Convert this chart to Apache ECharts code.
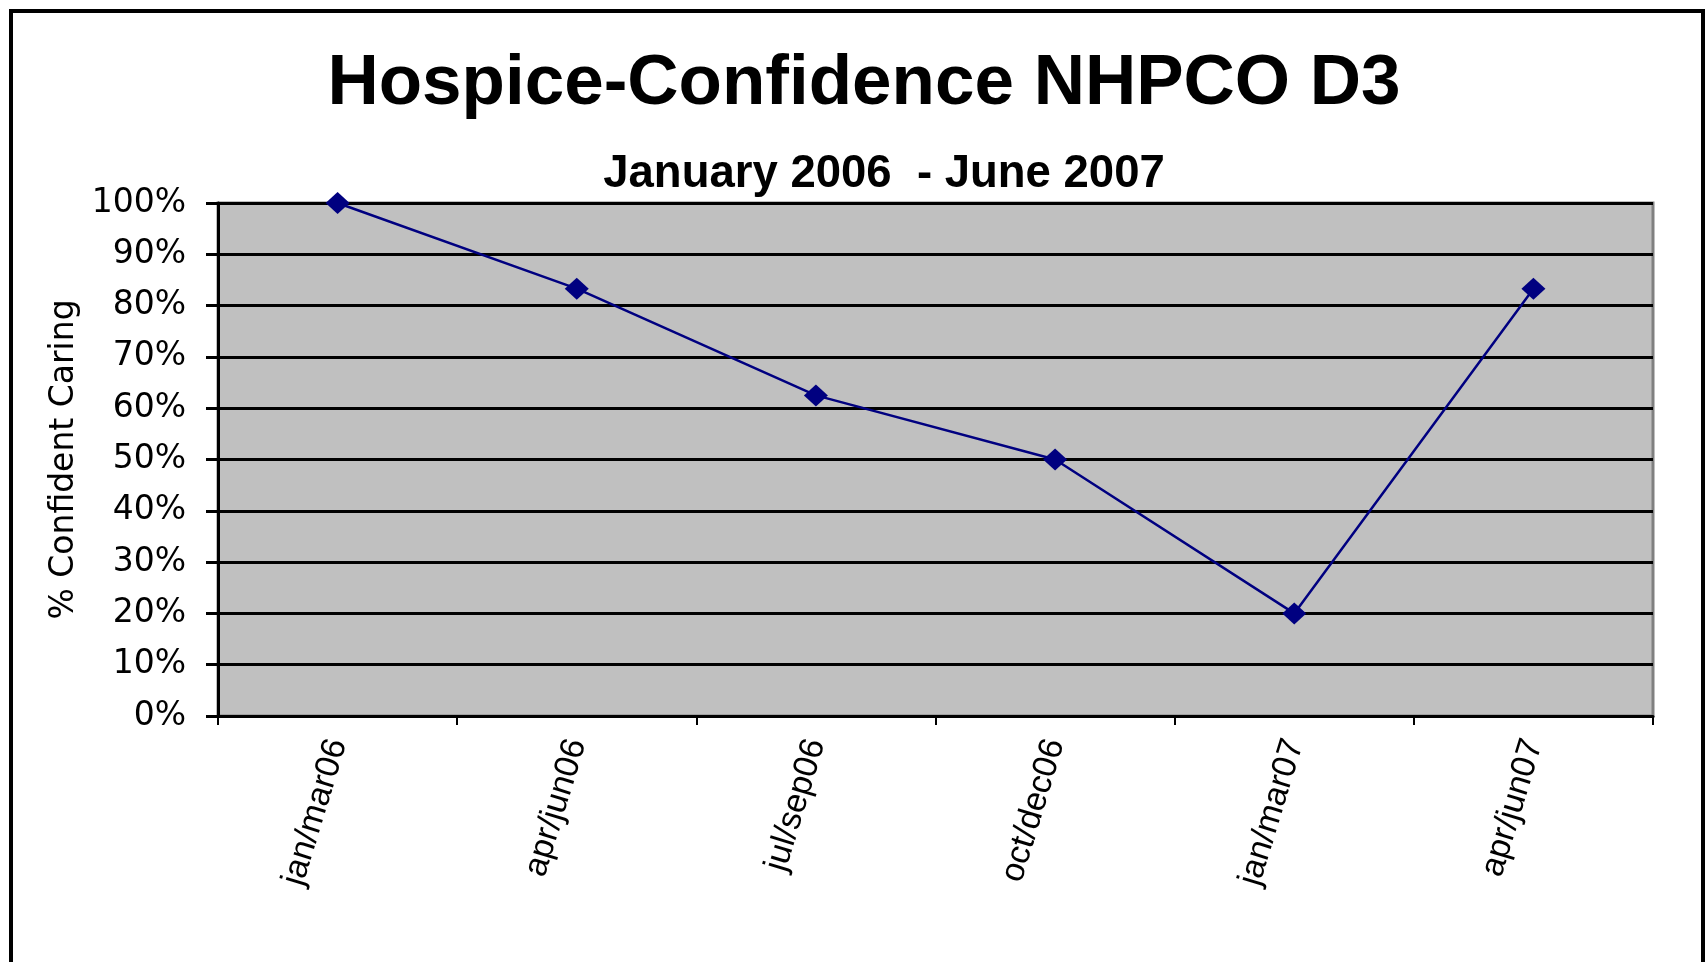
<!DOCTYPE html>
<html>
<head>
<meta charset="utf-8">
<script src="https://cdn.jsdelivr.net/npm/echarts@6/dist/echarts.min.js"></script>
<style>
html,body{margin:0;padding:0;background:#fff;}
#chart{width:1705px;height:962px;}
</style>
</head>
<body>
<div id="chart"></div>
<script>
const categories = ['jan/mar06', 'apr/jun06', 'jul/sep06', 'oct/dec06', 'jan/mar07', 'apr/jun07'];
const confidentCaring = [100, 83.3, 62.5, 50, 20, 83.3];
const yTicks = { min: 0, max: 100, interval: 10 };
const titleText = 'Hospice-Confidence NHPCO D3';
const subtitleText = 'January 2006  - June 2007';
const yAxisName = '% Confident Caring';

const chart = echarts.init(document.getElementById('chart'));
chart.setOption({
  backgroundColor: '#ffffff',
  animation: false,
  title: [
    {
      text: titleText,
      left: 859, top: 44, textAlign: 'center',
      textStyle: { fontFamily: 'Liberation Sans, Arial', fontWeight: 'bold', fontSize: 71, color: '#000' }
    },
    {
      text: subtitleText,
      left: 879, top: 146, textAlign: 'center',
      textStyle: { fontFamily: 'Liberation Sans, Arial', fontWeight: 'bold', fontSize: 45.5, color: '#000' }
    }
  ],
  graphic: [
    {
      type: 'rect', z: 100, silent: true,
      shape: { x: 11, y: 11, width: 1692, height: 980 },
      style: { fill: 'none', stroke: '#000', lineWidth: 4 }
    }
  ],
  grid: {
    left: 218, top: 203, right: 52, bottom: 246,
    show: true, backgroundColor: '#c0c0c0', borderColor: '#808080', borderWidth: 3
  },
  xAxis: {
    type: 'category',
    data: categories,
    boundaryGap: true,
    axisLine: { show: true, lineStyle: { color: '#000', width: 3 } },
    axisTick: { show: true, length: 9, lineStyle: { color: '#000', width: 2 } },
    axisLabel: {
      rotate: 73, margin: 24, interval: 0,
      fontFamily: 'Liberation Sans, Arial', fontSize: 34, color: '#000'
    },
    splitLine: { show: false }
  },
  yAxis: {
    type: 'value',
    min: yTicks.min, max: yTicks.max, interval: yTicks.interval,
    name: yAxisName,
    nameLocation: 'middle',
    nameGap: 136,
    nameRotate: 90,
    nameTextStyle: { fontFamily: 'DejaVu Sans', fontSize: 33, color: '#000' },
    axisLine: { show: true, lineStyle: { color: '#000', width: 3 } },
    axisTick: { show: true, length: 12, lineStyle: { color: '#000', width: 3 } },
    axisLabel: {
      margin: 32, formatter: '{value}%',
      fontFamily: 'DejaVu Sans', fontSize: 33, color: '#000'
    },
    splitLine: { show: true, lineStyle: { color: '#000', width: 3 } }
  },
  series: [
    {
      type: 'line',
      data: confidentCaring,
      symbol: 'diamond',
      symbolSize: [24, 22],
      itemStyle: { color: '#000080' },
      lineStyle: { color: '#000080', width: 2.5 },
      z: 5
    }
  ]
});
</script>
</body>
</html>
